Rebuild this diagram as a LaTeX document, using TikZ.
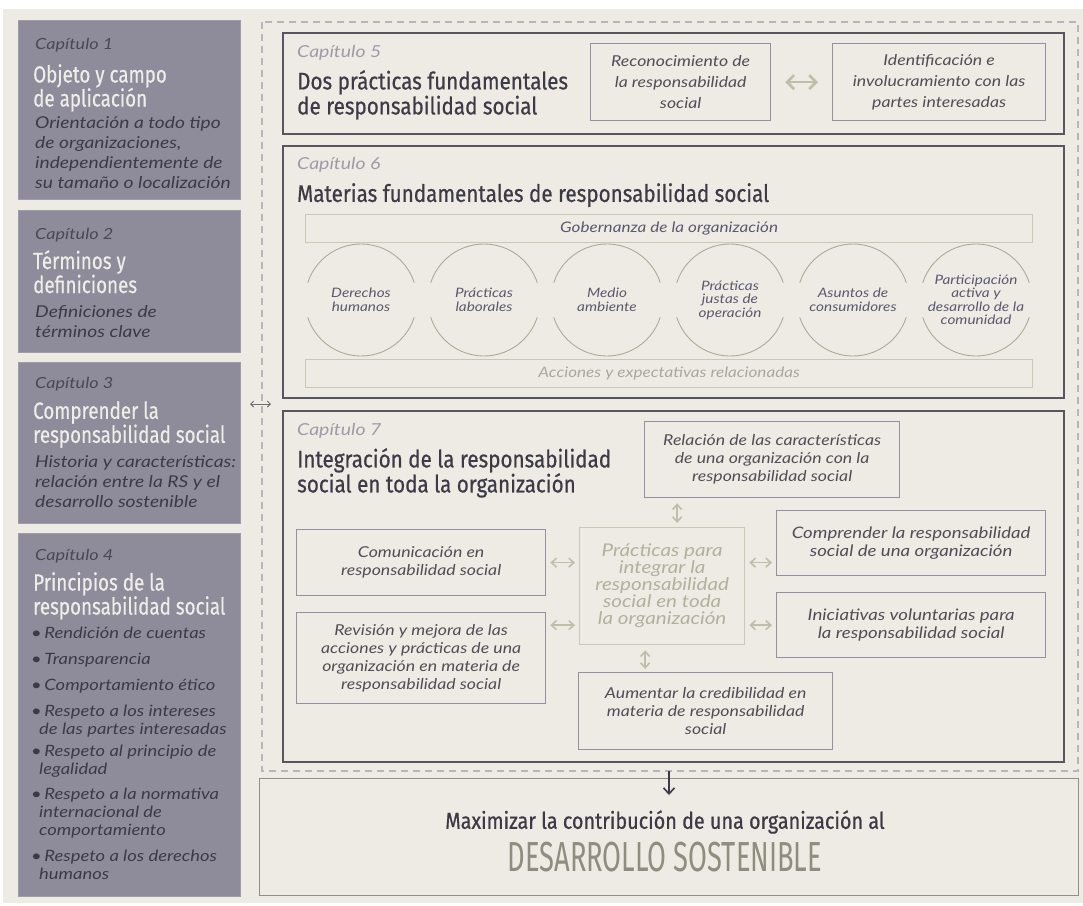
\documentclass[tikz,border=0pt]{standalone}
\usepackage{fontspec}
\setmainfont{Lato}[FakeStretch=1.18]
\newfontfamily\condfont[FakeStretch=0.8, FakeBold=0.4]{Fira Sans}
\newfontfamily\headfont[FakeStretch=0.86, FakeBold=0.6]{Fira Sans}
\newfontfamily\slimfont[FakeStretch=0.65]{Fira Sans}
\usetikzlibrary{arrows.meta}

\definecolor{paper}{HTML}{EEEBE4}
\definecolor{panelgray}{HTML}{8E8C9A}
\definecolor{paneltext}{HTML}{EFEDE8}
\definecolor{panelink}{HTML}{4A4856}
\definecolor{darkink}{HTML}{3C3A46}
\definecolor{frameink}{HTML}{57555F}
\definecolor{boxline}{HTML}{9290A2}
\definecolor{labelgray}{HTML}{9D9BAB}
\definecolor{olive}{HTML}{C0BDA8}
\definecolor{olivetext}{HTML}{B3B09D}
\definecolor{barline}{HTML}{CAC7B7}
\definecolor{bluetext}{HTML}{5B5970}
\definecolor{fadetext}{HTML}{A9A7A1}
\definecolor{sandgray}{HTML}{8F8D7E}
\definecolor{dashgray}{HTML}{B7B5BE}

\begin{document}
\begin{tikzpicture}[x=1pt, y=-1pt, >={Straight Barb[length=5pt,width=9pt]}]
    \tikzstyle{panel}=[fill=panelgray, draw=panelgray!85!white, line width=0.6, anchor=north west, inner sep=0]
    \tikzstyle{paneltag}=[anchor=north west, inner sep=0, font=\itshape\fontsize{15.3}{18}\selectfont, text=panelink]
    \tikzstyle{paneltitle}=[anchor=north west, inner sep=0, align=left, font=\condfont\fontsize{23.5}{24}\selectfont, text=paneltext]
    \tikzstyle{paneldesc}=[anchor=north west, inner sep=0, align=left, font=\itshape\fontsize{16.3}{20}\selectfont, text=darkink]
    \tikzstyle{chapbox}=[draw=frameink, line width=2, anchor=north west, inner sep=0]
    \tikzstyle{chaptag}=[anchor=north west, inner sep=0, font=\itshape\fontsize{16.5}{18}\selectfont, text=labelgray]
    \tikzstyle{chaptitle}=[anchor=north west, inner sep=0, align=left, font=\headfont\fontsize{24}{25}\selectfont, text=darkink]
    \tikzstyle{subbox}=[draw=boxline, line width=1.3, anchor=north west, inner sep=0, align=center, font=\itshape\fontsize{15}{18}\selectfont, text=darkink!90]
    \tikzstyle{bar}=[draw=barline, line width=1.2, anchor=north west, inner sep=0, minimum width=727, minimum height=28, font=\itshape\fontsize{14.5}{17}\selectfont]
    \tikzstyle{topic}=[circle, minimum size=112, inner sep=0, align=center, font=\itshape\fontsize{13}{13.5}\selectfont, text=bluetext]
    \tikzstyle{arcline}=[draw=olive!90!black, line width=0.9]
    \tikzstyle{biarrow}=[<->, draw=olive, line width=1.6]

    % background
    \useasboundingbox (0,0) rectangle (1083,905);
    \fill[paper] (3,9) rectangle (1083,903);

    % draw left panels
    \foreach \n/\t/\h in {1/20/179, 2/210/142, 3/362/161, 4/533/363}
    \node [panel, minimum width=222, minimum height=\h] (panel-\n) at (18,\t) {};

    \foreach \n/\t in {1/38, 2/228, 3/377, 4/549}
    \node [paneltag] (tag-\n) at (35,\t) {Capítulo \n};

    \node [paneltitle] (title-1) at (33,64) {Objeto y campo\\de aplicación};
    \node [paneltitle] (title-2) at (33,250) {Términos y\\definiciones};
    \node [paneltitle] (title-3) at (33,401) {Comprender la\\responsabilidad social};
    \node [paneltitle] (title-4) at (33,572) {Principios de la\\responsabilidad social};

    \node [paneldesc] (desc-1) at (35,116) {Orientación a todo tipo\\de organizaciones,\\independientemente de\\su tamaño o localización};
    \node [paneldesc] (desc-2) at (35,305) {Definiciones de\\términos clave};
    \node [paneldesc] (desc-3) at (35,455) {Historia y características:\\relación entre la RS y el\\desarrollo sostenible};
    \node [paneldesc, font=\itshape\fontsize{15.6}{18}\selectfont] (desc-4) at (31,627) {%
      \textbullet\,Rendición de cuentas\\[8pt]
      \textbullet\,Transparencia\\[8pt]
      \textbullet\,Comportamiento ético\\[8pt]
      \textbullet\,Respeto a los intereses\\\hspace*{8pt}de las partes interesadas\\[4pt]
      \textbullet\,Respeto al principio de\\\hspace*{8pt}legalidad\\[7pt]
      \textbullet\,Respeto a la normativa\\\hspace*{8pt}internacional de\\\hspace*{8pt}comportamiento\\[8pt]
      \textbullet\,Respeto a los derechos\\\hspace*{8pt}humanos};

    % dashed frame and link to panels
    \draw [dashgray, line width=1.2, dash pattern=on 7pt off 5pt] (262,22) rectangle (1078,771);
    \coordinate (link-a) at (250,404);
    \coordinate (link-b) at (271,404);
    \draw [<->, >={Straight Barb[length=3pt,width=6pt]}, draw=panelink!80, line width=0.9] (link-a) -- (link-b);

    % chapter 5
    \node [chapbox, minimum width=781, minimum height=101] (cap5) at (282,32) {};
    \node [chaptag] (tag-5) at (297,45) {Capítulo 5};
    \node [chaptitle] (title-5) at (297,70) {Dos prácticas fundamentales\\de responsabilidad social};
    \node [subbox, minimum width=180, minimum height=77, font=\itshape\fontsize{15}{21}\selectfont] (recon) at (590,43) {Reconocimiento de\\la responsabilidad\\social};
    \node [subbox, minimum width=213, minimum height=77, font=\itshape\fontsize{15}{21}\selectfont] (ident) at (832,43) {Identificación e\\involucramiento con las\\partes interesadas};
    \draw [biarrow, line width=2.6, >={Straight Barb[length=7pt,width=14pt]}, shorten <=14, shorten >=14] (recon) -- (ident);

    % chapter 6
    \node [chapbox, minimum width=781, minimum height=252] (cap6) at (282,145) {};
    \node [chaptag] (tag-6) at (297,157) {Capítulo 6};
    \node [chaptitle] (title-6) at (297,183) {Materias fundamentales de responsabilidad social};
    \node [bar, text=bluetext] (gov) at (305,214) {Gobernanza de la organización};
    \node [bar, text=fadetext] (acts) at (305,359) {Acciones y expectativas relacionadas};

    \foreach \l [count=\i] in {{Derechos\\humanos}, {Prácticas\\laborales}, {Medio\\ambiente}, {Prácticas\\justas de\\operación}, {Asuntos de\\consumidores}, {Participación\\activa y\\desarrollo de la\\comunidad}}
    \node [topic] (topic-\i) at (238+123*\i,300) {\l};

    \foreach \i in {1,...,6} {
      \draw [arcline] ([shift={(18:56)}]topic-\i.center) arc [start angle=18, end angle=162, radius=56];
      \draw [arcline] ([shift={(198:56)}]topic-\i.center) arc [start angle=198, end angle=342, radius=56];
    }

    % chapter 7
    \node [chapbox, minimum width=781, minimum height=351] (cap7) at (282,410) {};
    \node [chaptag] (tag-7) at (297,423) {Capítulo 7};
    \node [chaptitle] (title-7) at (297,448) {Integración de la responsabilidad\\social en toda la organización};

    \node [subbox, minimum width=255, minimum height=76] (relac) at (644,421) {Relación de las características\\de una organización con la\\responsabilidad social};
    \node [subbox, minimum width=249, minimum height=66] (comun) at (296,529) {Comunicación en\\responsabilidad social};
    \node [subbox, minimum width=249, minimum height=91] (revis) at (296,612) {Revisión y mejora de las\\acciones y prácticas de una\\organización en materia de\\responsabilidad social};
    \node [subbox, minimum width=165, minimum height=117, draw=barline, text=olivetext, font=\itshape\fontsize{17.5}{17}\selectfont] (prac) at (579,527) {Prácticas para\\integrar la\\responsabilidad\\social en toda\\la organización};
    \node [subbox, minimum width=269, minimum height=65, font=\itshape\fontsize{15.8}{18}\selectfont] (compr) at (776,510) {Comprender la responsabilidad\\social de una organización};
    \node [subbox, minimum width=269, minimum height=65, font=\itshape\fontsize{15.8}{18}\selectfont] (inic) at (776,592) {Iniciativas voluntarias para\\la responsabilidad social};
    \node [subbox, minimum width=254, minimum height=77] (aument) at (578,672) {Aumentar la credibilidad en\\materia de responsabilidad\\social};

    % draw arrows
    \draw [biarrow, shorten <=4, shorten >=4] (prac.west |- comun.east) -- (comun.east);
    \draw [biarrow, shorten <=4, shorten >=4] (prac.west |- inic.west) -- (revis.east |- inic.west);
    \draw [biarrow, shorten <=4, shorten >=4] (prac.east |- comun.east) -- (compr.west |- comun.east);
    \draw [biarrow, shorten <=4, shorten >=4] (prac.east |- inic.west) -- (inic.west);
    \draw [biarrow, shorten <=5, shorten >=4] ([xshift=15]prac.north |- relac.south) -- ([xshift=15]prac.north);
    \draw [biarrow, shorten <=5, shorten >=3] ([xshift=-17]prac.south) -- ([xshift=-17]prac.south |- aument.north);

    % result
    \node [draw=sandgray!80!boxline, line width=1.3, anchor=north west, inner sep=0, minimum width=819, minimum height=117] (final) at (259,778) {};
    \coordinate (flow-a) at (669,771);
    \coordinate (flow-b) at (669,795);
    \draw [->, draw=darkink, line width=1.6, >={Straight Barb[length=6pt,width=11pt]}] (flow-a) -- (flow-b);
    \node [font=\headfont\fontsize{23}{24}\selectfont, text=darkink] (maxim) at (665,822) {Maximizar la contribución de una organización al};
    \node [font=\slimfont\fontsize{42}{44}\selectfont, text=sandgray] (goal) at (665,857) {DESARROLLO SOSTENIBLE};
\end{tikzpicture}
\end{document}
